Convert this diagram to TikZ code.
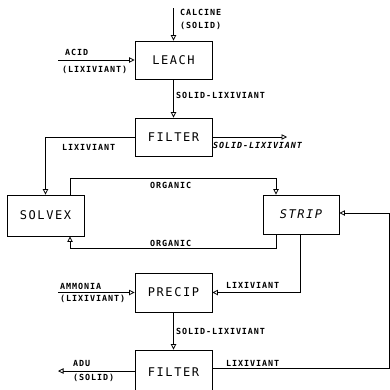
\documentclass[tikz,border=0pt]{standalone}
\usepackage{fontspec}
\usetikzlibrary{arrows.meta, positioning, calc}
\newfontfamily\plotmono{DejaVu Sans Mono}
\newcommand{\LabelFont}{\plotmono\bfseries\fontsize{8.4pt}{9pt}\selectfont\addfontfeature{LetterSpace=11}}
\newcommand{\BoxFont}{\plotmono\fontsize{12pt}{13pt}\selectfont\addfontfeature{LetterSpace=13}}
\tikzset{
  unitbox/.style={draw, line width=0.9pt, minimum width=77pt, inner sep=0pt, font=\BoxFont},
  flow/.style={line width=0.8pt, -{Triangle[open, length=5.5pt, width=5.5pt]}},
  tag/.style={anchor=west, inner sep=0pt, font=\LabelFont}
}
\begin{document}
\begin{tikzpicture}[x=1pt, y=-1pt]
  \useasboundingbox[fill=white] (0,0) rectangle (390,389);
  % process units
  \node[unitbox, minimum height=38pt] (leach) at (173.5,60) {LEACH};
  \node[unitbox, minimum height=38pt] (filtA) at (173.5,137) {FILTER};
  \node[unitbox, minimum height=41pt] (solvex) at (45.5,215.5) {SOLVEX};
  \node[unitbox, minimum height=39pt, minimum width=76pt] (strip) at (301,214.5) {\itshape STRIP};
  \node[unitbox, minimum height=39pt] (precip) at (173.5,292.5) {PRECIP};
  \node[unitbox, minimum height=44pt] (filtB) at (173.5,372) {FILTER};
  % free ends and bends
  \coordinate (calcIn) at (173.5,8);
  \coordinate (acidIn) at (58,60);
  \coordinate (solidOut) at (287,137);
  \coordinate (orgA) at (70,178);
  \coordinate (orgB) at (276,178);
  \coordinate (orgC) at (276,248);
  \coordinate (orgD) at (70,248);
  \coordinate (lixA) at (300,292.5);
  \coordinate (ammIn) at (58,292.5);
  \coordinate (aduOut) at (58,371);
  \coordinate (recA) at (389,368);
  \coordinate (recB) at (389,213);
  % streams
  \draw[flow] (calcIn) -- (leach.north);
  \draw[flow] (acidIn) -- (leach.west);
  \draw[flow] (leach.south) -- (filtA.north);
  \draw[flow] (filtA.east) -- (solidOut);
  \draw[flow] (filtA.west) -| (solvex.north);
  \draw[flow] (orgA |- solvex.north) -- (orgA) -- (orgB) -- (orgB |- strip.north);
  \draw[flow] (orgC |- strip.south) -- (orgC) -- (orgD) -- (orgD |- solvex.south);
  \draw[flow] (lixA |- strip.south) -- (lixA) -- (precip.east);
  \draw[flow] (ammIn) -- (precip.west);
  \draw[flow] (precip.south) -- (filtB.north);
  \draw[flow] (aduOut -| filtB.west) -- (aduOut);
  \draw[flow] (recA -| filtB.east) -- (recA) -- (recB) -- (recB -| strip.east);
  % stream labels
  \node[tag] (lblCalc) at (180,12) {CALCINE};
  \node[tag] (lblCalcS) at (180,26) {(SOLID)};
  \node[tag] (lblAcid) at (65,52) {ACID};
  \node[tag] (lblAcidL) at (62,70) {(LIXIVIANT)};
  \node[tag] (lblSlA) at (176,95) {SOLID-LIXIVIANT};
  \node[tag, font=\LabelFont\itshape] (lblSlOut) at (213,145) {SOLID-LIXIVIANT};
  \node[tag] (lblLixA) at (62,147) {LIXIVIANT};
  \node[tag] (lblOrgTop) at (150,185) {ORGANIC};
  \node[tag] (lblOrgBot) at (150,243) {ORGANIC};
  \node[tag] (lblLixB) at (226,285) {LIXIVIANT};
  \node[tag] (lblAmm) at (60,286) {AMMONIA};
  \node[tag] (lblAmmL) at (60,299) {(LIXIVIANT)};
  \node[tag] (lblSlB) at (176,331) {SOLID-LIXIVIANT};
  \node[tag] (lblAdu) at (73,363) {ADU};
  \node[tag] (lblAduS) at (73,378) {(SOLID)};
  \node[tag] (lblLixC) at (226,363) {LIXIVIANT};
\end{tikzpicture}
\end{document}
